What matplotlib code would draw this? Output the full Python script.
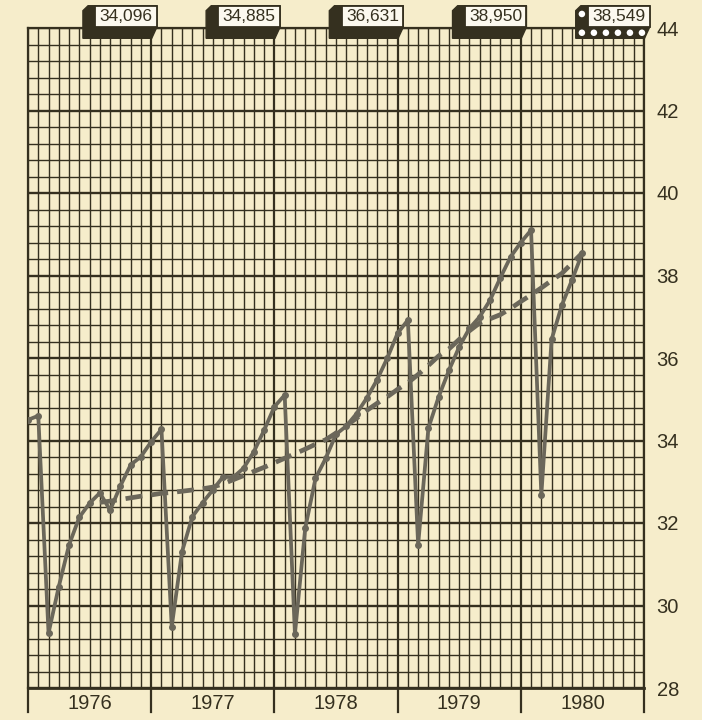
import numpy as np
import matplotlib.pyplot as plt
from matplotlib.patches import Polygon, Rectangle

plt.rcParams['font.family'] = ['Liberation Sans', 'DejaVu Sans']

years = [1976, 1977, 1978, 1979, 1980]
annual_labels = ["34,096", "34,885", "36,631", "38,950", "38,549"]

# monthly values, month 0 = start of 1976
monthly = [
    34.50, 34.60, 29.33, 30.46, 31.47, 32.14, 32.48, 32.73, 32.31, 32.90, 33.41, 33.61,
    33.97, 34.27, 29.49, 31.30, 32.15, 32.49, 32.80, 33.12, 33.11, 33.33, 33.73, 34.25,
    34.82, 35.10, 29.31, 31.87, 33.08, 33.57, 34.15, 34.35, 34.65, 35.03, 35.47, 36.00,
    36.60, 36.92, 31.47, 34.30, 35.06, 35.70, 36.27, 36.72, 37.00, 37.40, 37.94, 38.45,
    38.80, 39.10, 32.68, 36.45, 37.28, 37.90, 38.55,
]

# trend line, starting at month 7
trend_start = 7
trend = [
    32.50, 32.53, 32.57, 32.61, 32.65, 32.68, 32.72, 32.74, 32.77, 32.80, 32.83,
    32.87, 32.95, 33.05, 33.15, 33.25, 33.35, 33.46, 33.57, 33.68, 33.79, 33.91,
    34.02, 34.18, 34.36, 34.54, 34.73, 34.90, 35.06, 35.24, 35.40, 35.60, 35.82,
    36.05, 36.22, 36.45, 36.66, 36.85, 36.95, 37.05, 37.20, 37.37, 37.53, 37.70,
    37.88, 38.05, 38.30, 38.55,
]

BG = "#f6edcb"
INK = "#35301f"
LINE = "#6b675a"

fig = plt.figure(figsize=(7.02, 7.20), dpi=100, facecolor=BG)
ax = fig.add_axes([28 / 702, 32 / 720, 616 / 702, 660 / 720])
ax.set_facecolor(BG)
ax.set_xlim(0, 60)
ax.set_ylim(28, 44)

# graph paper
for m in range(61):
    major = m % 12 == 0
    ax.axvline(m, color=INK, lw=1.6 if major else 1.0, zorder=1)
for k in range(41):
    major = k % 5 == 0
    ax.axhline(28 + 0.4 * k, color=INK, lw=1.7 if major else 1.0, zorder=1)

for s in ax.spines.values():
    s.set_color(INK)
    s.set_linewidth(1.6)
ax.spines['bottom'].set_linewidth(2)

# year ticks below the axis
for m in range(0, 61, 12):
    ax.plot([m, m], [28, 27.42], color=INK, lw=1.6, clip_on=False)

ax.set_xticks([])
ax.yaxis.tick_right()
ax.set_yticks(range(28, 45, 2))
ax.tick_params(axis='y', length=0, pad=9, labelsize=14.5, labelcolor=INK)

for i, yr in enumerate(years):
    ax.text(12 * i + 6, 27.63, str(yr), ha='center', va='center',
            fontsize=14.5, color=INK)

# data
ax.plot(range(trend_start, trend_start + len(trend)), trend, color=LINE,
        lw=3.4, ls=(0, (3.6, 1.9)), zorder=3)
ax.plot(range(len(monthly)), monthly, color=LINE, lw=2.7, marker='o',
        ms=4, zorder=4)

# annual total boxes with 3d shadow
dx, dy = 1.2, 0.27
for i, lab in enumerate(annual_labels):
    x1 = 12 * (i + 1) + 0.55
    x0 = x1 - 6.0
    ytop, ybot = 44.54, 44.02
    last = i == len(annual_labels) - 1
    shadow = Polygon([(x0 - dx, ytop - 0.12), (x0 - dx + 0.5, ytop), (x1, ytop),
                      (x1, ybot), (x1 - 0.5, ybot - dy), (x0 - dx, ybot - dy)],
                     closed=True, fc=INK, ec=INK, lw=1, clip_on=False, zorder=6)
    ax.add_patch(shadow)
    if last:
        xs = np.arange(x0 - dx + 0.6, x1 - 0.2, 1.17)
        ax.scatter(xs, [ybot - dy / 2] * len(xs), s=22, c="white", edgecolors="none",
                   clip_on=False, zorder=7)
        ax.scatter([x0 - dx / 2], [ytop - 0.2], s=22, c="white", edgecolors="none",
                   clip_on=False, zorder=7)
    ax.add_patch(Rectangle((x0, ybot), x1 - x0, ytop - ybot, fc="#fcf9ef", ec=INK,
                           lw=1.3, clip_on=False, zorder=8))
    ax.text((x0 + x1) / 2, (ytop + ybot) / 2, lab, ha='center', va='center',
            fontsize=12.5, color=INK, zorder=9)

fig.savefig("out.png", dpi=100, facecolor=BG)
